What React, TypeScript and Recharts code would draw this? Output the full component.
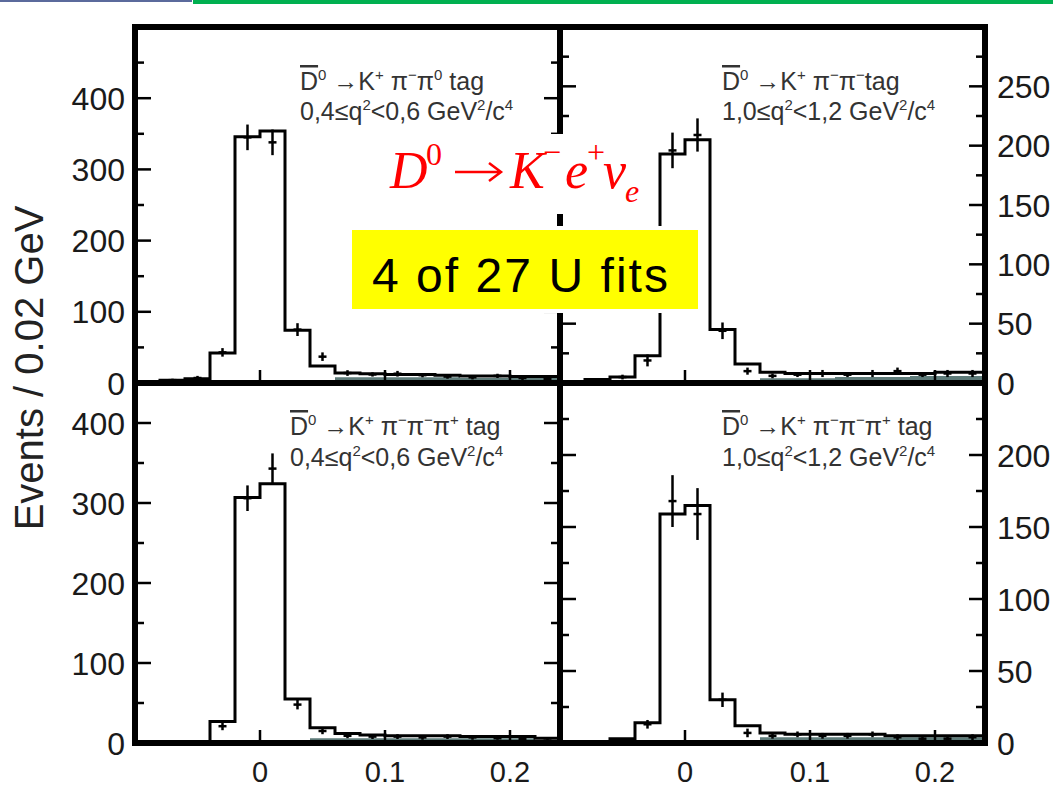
import React from 'react'
import {
  ComposedChart,
  Line,
  Area,
  Scatter,
  ErrorBar,
  XAxis,
  YAxis,
  ReferenceLine,
} from 'recharts'

// bin edges (0.02 GeV bins) and bin centres shared by all four panels
const binEdges = [
  -0.1, -0.08, -0.06, -0.04, -0.02, 0, 0.02, 0.04, 0.06, 0.08, 0.1, 0.12, 0.14, 0.16, 0.18, 0.2,
  0.22, 0.24,
]
const binCenters = [
  -0.09, -0.07, -0.05, -0.03, -0.01, 0.01, 0.03, 0.05, 0.07, 0.09, 0.11, 0.13, 0.15, 0.17, 0.19,
  0.21, 0.23,
]
const xTicks = [0, 0.1, 0.2]

// top left: K+ pi- pi0 tag, 0.4 <= q2 < 0.6
const histTL = [1, 4, 6, 42, 346, 354, 74, 24, 14, 13, 12, 12, 11, 10, 10, 9, 9]
const pointsTL = [0, 4, 7, 43, 345, 338, 75, 37, 14, 12, 13, 11, 9, 8, 10, 7, 6]
const errTL = [1, 2, 3, 6, 18, 18, 9, 6, 4, 3, 4, 3, 3, 3, 3, 3, 2]
const bgTL = [0, 0, 0, 0, 0, 0, 0, 0, 8, 8, 8, 8, 8, 7, 7, 7, 7]

// top right: K+ pi- pi- tag, 1.0 <= q2 < 1.2
const histTR = [1, 3, 5, 23, 193, 205, 45, 16, 9, 8, 8, 8, 8, 8, 8, 9, 9]
const pointsTR = [1, 2, 5, 19, 196, 209, 44, 10, 6, 7, 8, 7, 8, 10, 7, 8, 8]
const errTR = [1, 1, 2, 5, 15, 14, 7, 3, 2, 2, 3, 2, 3, 3, 2, 3, 3]
const bgTR = [0, 0, 0, 0, 0, 0, 0, 0, 4, 4, 4, 5, 5, 5, 6, 6, 6]

// bottom left: K+ pi- pi- pi+ tag, 0.4 <= q2 < 0.6
const histBL = [0, 1, 2, 27, 307, 324, 55, 19, 12, 10, 9, 9, 9, 8, 8, 8, 6]
const pointsBL = [0, 1, 2, 21, 306, 343, 48, 15, 9, 8, 8, 7, 8, 7, 6, 5, 3]
const errBL = [0, 1, 1, 5, 16, 19, 6, 4, 3, 3, 3, 3, 3, 3, 2, 2, 2]
const bgBL = [0, 0, 0, 0, 0, 0, 0, 6, 6, 6, 6, 6, 6, 6, 6, 6, 0]

// bottom right: K+ pi- pi- pi+ tag, 1.0 <= q2 < 1.2
const histBR = [0, 1, 3, 14, 159, 165, 30, 12, 7, 6, 6, 6, 6, 5, 5, 5, 5]
const pointsBR = [0, 1, 2, 13, 168, 159, 30, 7, 5, 6, 5, 5, 6, 4, 3, 3, 4]
const errBR = [0, 1, 1, 3, 18, 18, 5, 3, 2, 2, 2, 2, 2, 2, 2, 2, 2]
const bgBR = [0, 0, 0, 0, 0, 0, 0, 0, 4, 4, 4, 4, 4, 4, 4, 4, 4]

const FONT = '"Liberation Sans", Arial, Helvetica, sans-serif'
const SERIF = '"Liberation Serif", "Times New Roman", serif'
const PAD = 20
const frame = { stroke: '#000', strokeWidth: 6, strokeLinecap: 'square' as const }

function yTick(side: 'left' | 'right', majors: number[], showLabel: boolean) {
  return (p: any) => {
    const v = p.payload.value
    const major = majors.includes(v)
    const dir = side === 'left' ? 1 : -1
    return (
      <g>
        <line
          x1={p.x}
          x2={p.x + dir * (major ? 16 : 9)}
          y1={p.y}
          y2={p.y}
          stroke="#000"
          strokeWidth={2.5}
        />
        {showLabel && major && (
          <text
            x={p.x - dir * (side === 'left' ? 10 : 12)}
            y={p.y}
            dy="0.36em"
            textAnchor={side === 'left' ? 'end' : 'start'}
            fontSize={32}
            fontFamily={FONT}
            fill="#1a1a1a"
          >
            {v}
          </text>
        )}
      </g>
    )
  }
}

function xTick(showLabel: boolean) {
  return (p: any) => (
    <g>
      <line x1={p.x} x2={p.x} y1={p.y} y2={p.y - 13} stroke="#000" strokeWidth={2.5} />
      {showLabel && (
        <text
          x={p.x}
          y={p.y + 29}
          dy="0.36em"
          textAnchor="middle"
          fontSize={29}
          fontFamily={FONT}
          fill="#1a1a1a"
        >
          {p.payload.value}
        </text>
      )}
    </g>
  )
}

const crossShape = (p: any) => (
  <line x1={p.cx - 4} x2={p.cx + 4} y1={p.cy} y2={p.cy} stroke="#000" strokeWidth={2.5} />
)

interface PanelProps {
  plotLeft: number
  plotTop: number
  plotH: number
  labelSide: 'left' | 'right'
  bottomLabels: boolean
  yMax: number
  yMajor: number[]
  yMinor: number[]
  hist: number[]
  bg: number[]
  pts: number[]
  errs: number[]
}

function Panel(props: PanelProps) {
  const { plotLeft, plotTop, plotH, labelSide, bottomLabels, yMax, yMajor, yMinor } = props
  const plotW = 425
  const leftW = labelSide === 'left' ? 90 : 12
  const rightW = labelSide === 'right' ? 90 : 12
  const xAxisH = bottomLabels ? 55 : 24
  const rows = binEdges.map((x, i) => {
    const k = Math.min(i, props.hist.length - 1)
    return { x, h: props.hist[k], bg: props.bg[k] }
  })
  const points = binCenters.map((x, i) => ({ x, y: props.pts[i], e: props.errs[i] }))
  const yTicks = [...yMajor, ...yMinor].sort((a, b) => a - b)

  return (
    <div style={{ position: 'absolute', left: plotLeft - leftW, top: plotTop - PAD }}>
      <ComposedChart
        width={leftW + plotW + rightW}
        height={PAD + plotH + xAxisH}
        data={rows}
        margin={{ top: PAD, right: 0, bottom: 0, left: 0 }}
      >
        <XAxis
          type="number"
          dataKey="x"
          domain={[-0.1, 0.24]}
          allowDataOverflow
          ticks={xTicks}
          interval={0}
          height={xAxisH}
          tickSize={0}
          tickMargin={0}
          tickLine={false}
          axisLine={frame}
          tick={xTick(bottomLabels)}
        />
        <YAxis
          yAxisId="l"
          type="number"
          domain={[0, yMax]}
          allowDataOverflow
          ticks={yTicks}
          interval={0}
          width={leftW}
          tickSize={0}
          tickMargin={0}
          tickLine={false}
          axisLine={frame}
          tick={yTick('left', yMajor, labelSide === 'left')}
        />
        <YAxis
          yAxisId="r"
          orientation="right"
          type="number"
          domain={[0, yMax]}
          allowDataOverflow
          ticks={yTicks}
          interval={0}
          width={rightW}
          tickSize={0}
          tickMargin={0}
          tickLine={false}
          axisLine={frame}
          tick={yTick('right', yMajor, labelSide === 'right')}
        />
        <ReferenceLine yAxisId="l" y={yMax} stroke="#000" strokeWidth={6} />
        <Area
          yAxisId="l"
          type="stepAfter"
          dataKey="bg"
          stroke="none"
          fill="#5e7b79"
          fillOpacity={1}
          isAnimationActive={false}
        />
        <Line
          yAxisId="l"
          type="stepAfter"
          dataKey="h"
          stroke="#000"
          strokeWidth={3}
          dot={false}
          isAnimationActive={false}
        />
        <Scatter
          yAxisId="l"
          data={points}
          dataKey="y"
          shape={crossShape}
          isAnimationActive={false}
        >
          <ErrorBar dataKey="e" direction="y" width={0} stroke="#000" strokeWidth={2.5} />
        </Scatter>
      </ComposedChart>
    </div>
  )
}

type Seg = [string, 'n' | 'sup' | 'over']

function RichText({ x, y, segs }: { x: number; y: number; segs: Seg[] }) {
  let shifted = false
  return (
    <text x={x} y={y} fontSize={25} fontFamily={FONT} fill="#333">
      {segs.map(([s, kind], i) => {
        let dy = 0
        if (kind === 'sup' && !shifted) {
          dy = -10
          shifted = true
        } else if (kind !== 'sup' && shifted) {
          dy = 10
          shifted = false
        }
        return (
          <tspan
            key={i}
            dy={dy}
            fontSize={kind === 'sup' ? 15 : 25}
            style={kind === 'over' ? { textDecoration: 'overline' } : undefined}
          >
            {s}
          </tspan>
        )
      })}
    </text>
  )
}

const tagPi0: Seg[] = [['D', 'over'], ['0', 'sup'], [' →K', 'n'], ['+', 'sup'], [' π', 'n'], ['−', 'sup'], ['π', 'n'], ['0', 'sup'], [' tag', 'n']]
const tagPiPi: Seg[] = [['D', 'over'], ['0', 'sup'], [' →K', 'n'], ['+', 'sup'], [' π', 'n'], ['−', 'sup'], ['π', 'n'], ['−', 'sup'], ['tag', 'n']]
const tag3Pi: Seg[] = [['D', 'over'], ['0', 'sup'], [' →K', 'n'], ['+', 'sup'], [' π', 'n'], ['−', 'sup'], ['π', 'n'], ['−', 'sup'], ['π', 'n'], ['+', 'sup'], [' tag', 'n']]
const qLow: Seg[] = [['0,4≤q', 'n'], ['2', 'sup'], ['<0,6 GeV', 'n'], ['2', 'sup'], ['/c', 'n'], ['4', 'sup']]
const qHigh: Seg[] = [['1,0≤q', 'n'], ['2', 'sup'], ['<1,2 GeV', 'n'], ['2', 'sup'], ['/c', 'n'], ['4', 'sup']]

export default function App() {
  return (
    <div
      style={{
        position: 'absolute',
        left: 0,
        top: 0,
        width: 1053,
        height: 788,
        background: '#fff',
        overflow: 'hidden',
      }}
    >
      <div style={{ position: 'absolute', left: 0, top: 0, width: 192, height: 2, background: '#5b6a9c' }} />
      <div style={{ position: 'absolute', left: 193, top: 0, width: 860, height: 4, background: '#00b050' }} />

      <Panel plotLeft={135} plotTop={27} plotH={356} labelSide="left" bottomLabels={false}
        yMax={500} yMajor={[0, 100, 200, 300, 400]} yMinor={[50, 150, 250, 350, 450]}
        hist={histTL} bg={bgTL} pts={pointsTL} errs={errTL} />
      <Panel plotLeft={560} plotTop={27} plotH={356} labelSide="right" bottomLabels={false}
        yMax={300} yMajor={[0, 50, 100, 150, 200, 250]} yMinor={[25, 75, 125, 175, 225, 275]}
        hist={histTR} bg={bgTR} pts={pointsTR} errs={errTR} />
      <Panel plotLeft={135} plotTop={383} plotH={360} labelSide="left" bottomLabels
        yMax={450} yMajor={[0, 100, 200, 300, 400]} yMinor={[50, 150, 250, 350]}
        hist={histBL} bg={bgBL} pts={pointsBL} errs={errBL} />
      <Panel plotLeft={560} plotTop={383} plotH={360} labelSide="right" bottomLabels
        yMax={250} yMajor={[0, 50, 100, 150, 200]} yMinor={[25, 75, 125, 175, 225]}
        hist={histBR} bg={bgBR} pts={pointsBR} errs={errBR} />

      <svg
        width={1053}
        height={788}
        style={{ position: 'absolute', left: 0, top: 0, pointerEvents: 'none' }}
      >
        <text
          x={43}
          y={368}
          transform="rotate(-90 43 368)"
          textAnchor="middle"
          fontSize={40}
          fontFamily={FONT}
          fill="#222"
        >
          Events / 0.02 GeV
        </text>

        <RichText x={300} y={90} segs={tagPi0} />
        <RichText x={300} y={120} segs={qLow} />
        <RichText x={722} y={90} segs={tagPiPi} />
        <RichText x={722} y={120} segs={qHigh} />
        <RichText x={290} y={435} segs={tag3Pi} />
        <RichText x={290} y={466} segs={qLow} />
        <RichText x={722} y={435} segs={tag3Pi} />
        <RichText x={722} y={466} segs={qHigh} />

        <rect x={376} y={134} width={272} height={80} fill="#fff" />
        <g fill="#ff0000" fontFamily={SERIF}>
          <text x={390} y={188} fontSize={52} fontStyle="italic">D</text>
          <text x={426} y={165} fontSize={32}>0</text>
          <text x={510} y={188} fontSize={52} fontStyle="italic">K</text>
          <text x={543} y={163} fontSize={32}>−</text>
          <text x={565} y={188} fontSize={52} fontStyle="italic">e</text>
          <text x={587} y={163} fontSize={32}>+</text>
          <text x={603} y={188} fontSize={52} fontStyle="italic">ν</text>
          <text x={625} y={202} fontSize={32} fontStyle="italic">e</text>
        </g>
        <path
          d="M455 172 H500 M489 163 L501 172 L489 181"
          fill="none"
          stroke="#ff0000"
          strokeWidth={2.5}
        />

        <rect x={348} y={226} width={354} height={87} fill="#fff" />
        <rect x={352} y={230} width={346} height={79} fill="#ffff00" />
        <text
          x={372}
          y={292}
          fontSize={48}
          fontFamily={FONT}
          fill="#000"
          textLength={296}
          lengthAdjust="spacing"
        >
          4 of 27 U fits
        </text>
      </svg>
    </div>
  )
}
